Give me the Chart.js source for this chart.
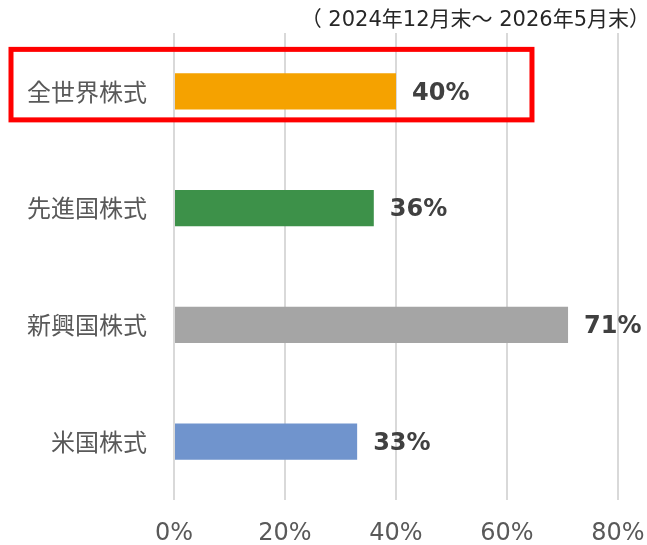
<!DOCTYPE html>
<html>
<head>
<meta charset="utf-8">
<script src="https://cdn.jsdelivr.net/npm/chart.js@4.4.1/dist/chart.umd.min.js"></script>
<style>
  html, body { margin: 0; padding: 0; background: #fff; }
  #wrap { width: 647px; height: 545px; position: relative; }
</style>
</head>
<body>
<div id="wrap"><canvas id="chart"></canvas></div>
<script>
const categories = ['全世界株式', '先進国株式', '新興国株式', '米国株式'];
const returns = [40, 36, 71, 33];
const barColors = ['#F5A200', '#3D9149', '#A5A5A5', '#7094CD'];
const xTicks = [0, 20, 40, 60, 80];
const periodText = '（ 2024年12月末～ 2026年5月末）';
const highlightIndex = 0;

const ctx = document.getElementById('chart').getContext('2d');

// labels at the end of each bar
const valueLabels = {
    id: 'valueLabels',
    afterDatasetsDraw(chart) {
        const c = chart.ctx;
        const meta = chart.getDatasetMeta(0);
        c.save();
        c.font = 'bold 24px "DejaVu Sans"';
        c.fillStyle = '#404040';
        c.textAlign = 'left';
        c.textBaseline = 'middle';
        meta.data.forEach((bar, i) => {
            c.fillText(returns[i] + '%', bar.x + 16, bar.y + 2);
        });
        c.restore();
    }
};

// period note and red box around the highlighted row
const extras = {
    id: 'extras',
    afterDraw(chart) {
        const c = chart.ctx;
        const y = chart.scales.y;
        const x = chart.scales.x;
        c.save();
        c.font = '21px "DejaVu Sans", "Noto Sans CJK JP"';
        c.fillStyle = '#262626';
        c.textAlign = 'right';
        c.textBaseline = 'middle';
        c.fillText(periodText, 650, 21);

        const cy = y.getPixelForValue(highlightIndex);
        c.strokeStyle = '#FF0000';
        c.lineWidth = 5;
        c.strokeRect(11, cy - 42, x.getPixelForValue(64.5) - 11, 70.5);
        c.restore();
    }
};

new Chart(ctx, {
    type: 'bar',
    data: {
        labels: categories,
        datasets: [{
            data: returns,
            backgroundColor: barColors,
            barPercentage: 0.31,
            categoryPercentage: 1
        }]
    },
    options: {
        indexAxis: 'y',
        responsive: true,
        maintainAspectRatio: false,
        animation: false,
        layout: { padding: { top: 33, right: 29, left: 0, bottom: 0 } },
        plugins: {
            legend: { display: false },
            tooltip: { enabled: false }
        },
        scales: {
            x: {
                min: 0,
                max: 80,
                afterBuildTicks: (scale) => { scale.ticks = xTicks.map(v => ({ value: v })); },
                afterFit: (scale) => {
                    scale.height = 45;
                    scale.paddingLeft = 0;
                    scale.paddingRight = 0;
                },
                grid: { color: '#D9D9D9', lineWidth: 2, drawTicks: false },
                border: { display: false },
                ticks: {
                    padding: 19,
                    maxRotation: 0,
                    color: '#595959',
                    font: { family: 'DejaVu Sans', size: 24 },
                    callback: (v) => v + '%'
                }
            },
            y: {
                grid: { display: false, drawTicks: false },
                border: { display: false },
                afterFit: (scale) => {
                    scale.width = 174;
                    scale.paddingTop = 0;
                    scale.paddingBottom = 0;
                },
                ticks: {
                    padding: 27,
                    color: '#595959',
                    font: { family: 'Noto Sans CJK JP', size: 24 }
                }
            }
        }
    },
    plugins: [valueLabels, extras]
});
</script>
</body>
</html>
